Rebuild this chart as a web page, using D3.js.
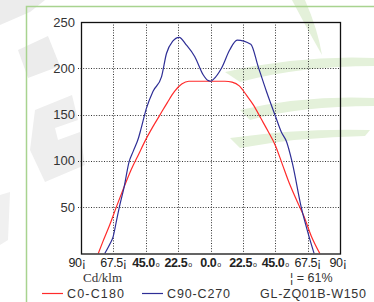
<!DOCTYPE html>
<html>
<head>
<meta charset="utf-8">
<script src="https://cdn.jsdelivr.net/npm/d3@7"></script>
<style>
body { margin: 0; background: #fff; }
svg { display: block; }
</style>
</head>
<body>
<svg id="canvas"></svg>
<script>
// C0-C180 (red)
const redAngles = [-78, -75, -70, -65, -60, -55, -50, -45, -40, -35, -30, -25, -20, -15, -10, -5, 0, 5, 10, 15, 20, 25, 30, 35, 40, 45, 50, 55, 60, 65, 70, 76]
const redValues = [0, 12, 31, 52, 72, 91, 107, 123, 137, 150, 163, 175, 183, 186, 186, 186, 186, 186, 186, 185, 181, 171, 160, 146, 132, 117, 96, 75, 57, 40, 19, 0]

// C90-C270 (blue)
const blueAngles = [-73.5, -70, -67.7, -65, -63.5, -60, -56.6, -53.8, -50, -48.4, -44.5, -40, -34, -30.6, -26.4, -21.8, -16.7, -10.9, -5.1, -2, 0, 2, 7.6, 13.4, 18.5, 28, 33.1, 38.9, 45.2, 49.3, 52.8, 56.7, 63.2, 67.8, 72]
const blueValues = [0, 10, 18, 38, 49, 72, 99, 110, 125, 134, 157, 175, 191, 216, 229, 233.5, 225, 212.5, 193, 187, 186, 188, 200, 220, 230.5, 226, 202, 175, 148, 131, 121, 99, 49, 22, 0]

const xTicks = [-90, -67.5, -45, -22.5, 0, 22.5, 45, 67.5, 90]
const xTickLabels = ['90¡', '67.5¡', '45.0', '22.5', '0.0', '22.5', '45.0', '67.5¡', '90¡']
const yTicks = [50, 100, 150, 200, 250]

const width = 374
const height = 302
const plotLeft = 81, plotRight = 340, plotTop = 22, plotBottom = 253.5

const svg = d3.select('#canvas')
    .attr('width', width)
    .attr('height', height)

// faint watermark behind everything
const wm = svg.append('g')
wm.append('path')
    .attr('d', 'M0,0 L45,0 L30,12 L0,25 Z')
    .attr('fill', '#ececec')
wm.append('path')
    .attr('d', 'M18,50 L48,36 L60,66 L28,78 Z')
    .attr('fill', '#ececec')
wm.append('path')
    .attr('d', 'M35,110 L72,95 L78,120 L55,128 L58,140 L80,132 L85,165 L45,182 L30,150 Z')
    .attr('fill', '#eeeeee')
wm.append('path')
    .attr('d', 'M0,195 L10,192 L8,240 L0,245 Z')
    .attr('fill', '#f0f0f0')
wm.append('path')
    .attr('d', 'M292,0 L305,0 Q318,30 322,55 Q305,25 292,0 Z')
    .attr('fill', '#e4f1da')
wm.append('path')
    .attr('d', 'M225,72 Q300,55 374,58 L374,66 Q300,66 240,82 Z')
    .attr('fill', '#e4f1da')
wm.append('path')
    .attr('d', 'M240,110 Q305,95 374,98 L374,106 Q300,106 250,120 Z')
    .attr('fill', '#e4f1da')
wm.append('path')
    .attr('d', 'M230,138 Q300,128 370,130 L365,136 Q300,137 240,148 Z')
    .attr('fill', '#e4f1da')

// green frame
svg.append('path')
    .attr('d', 'M26.5,' + height + ' L26.5,6.5 L' + width + ',6.5')
    .attr('fill', 'none')
    .attr('stroke', '#a8d38f')
    .attr('stroke-width', 1.5)

const xScale = d3.scaleLinear()
    .domain([-90, 90])
    .range([plotLeft, plotRight])

const yScale = d3.scaleLinear()
    .domain([0, 250])
    .range([plotBottom, plotTop])

// grid lines
svg.append('g')
    .selectAll('line')
    .data(xTicks.slice(1, -1))
    .enter()
    .append('line')
    .attr('x1', d => Math.round(xScale(d)) + 0.5)
    .attr('x2', d => Math.round(xScale(d)) + 0.5)
    .attr('y1', plotTop)
    .attr('y2', plotBottom)
    .attr('stroke', '#333')
    .attr('stroke-dasharray', '1,1.6')

svg.append('g')
    .selectAll('line')
    .data(yTicks.slice(0, -1))
    .enter()
    .append('line')
    .attr('x1', plotLeft - 3)
    .attr('x2', plotRight)
    .attr('y1', d => Math.round(yScale(d)) + 0.5)
    .attr('y2', d => Math.round(yScale(d)) + 0.5)
    .attr('stroke', '#333')
    .attr('stroke-dasharray', '1,1.6')

// y axis labels
svg.append('g')
    .selectAll('text')
    .data(yTicks)
    .enter()
    .append('text')
    .attr('x', 75)
    .attr('y', d => yScale(d) + 4.5)
    .attr('text-anchor', 'end')
    .attr('font-family', 'Liberation Sans, Arial, sans-serif')
    .attr('font-size', 13)
    .attr('fill', '#333')
    .text(d => d)

// x axis labels
const xl = svg.append('g')
    .selectAll('text')
    .data(xTicks)
    .enter()
    .append('text')
    .attr('x', (d, i) => xScale(d) + (i == 0 ? -4 : (i == 8 ? -2 : 0)))
    .attr('y', 267)
    .attr('text-anchor', 'middle')
    .attr('font-family', 'Liberation Sans, Arial, sans-serif')
    .attr('font-size', 12.5)
    .attr('letter-spacing', -0.4)
    .attr('font-weight', (d, i) => (i >= 2 && i <= 6) ? 'bold' : 'normal')
    .attr('fill', '#222')
xl.append('tspan').text((d, i) => xTickLabels[i])
xl.filter((d, i) => i >= 2 && i <= 6)
    .append('tspan')
    .attr('font-size', 7)
    .attr('font-weight', 'normal')
    .attr('dx', 1)
    .text('o')

// curves
const clip = svg.append('clipPath').attr('id', 'plotclip')
clip.append('rect')
    .attr('x', plotLeft)
    .attr('y', plotTop)
    .attr('width', plotRight - plotLeft)
    .attr('height', plotBottom - plotTop)

const line = d3.line()
    .x(d => xScale(d[0]))
    .y(d => yScale(d[1]))
    .curve(d3.curveMonotoneX)

const curves = svg.append('g').attr('clip-path', 'url(#plotclip)')
curves.append('path')
    .datum(redAngles.map((a, i) => [a, redValues[i]]))
    .attr('d', line)
    .attr('fill', 'none')
    .attr('stroke', '#ff2b2b')
    .attr('stroke-width', 1.2)

curves.append('path')
    .datum(blueAngles.map((a, i) => [a, blueValues[i]]))
    .attr('d', line)
    .attr('fill', 'none')
    .attr('stroke', '#2e2e96')
    .attr('stroke-width', 1.2)

// plot frame
svg.append('rect')
    .attr('x', plotLeft + 0.5)
    .attr('y', plotTop + 0.5)
    .attr('width', plotRight - plotLeft)
    .attr('height', plotBottom - plotTop)
    .attr('fill', 'none')
    .attr('stroke', '#111')
    .attr('stroke-width', 1.3)

// units and efficiency
svg.append('text')
    .attr('x', 83)
    .attr('y', 282)
    .attr('font-family', 'Liberation Serif, Times New Roman, serif')
    .attr('font-size', 13)
    .attr('fill', '#333')
    .text('Cd/klm')

svg.append('text')
    .attr('x', 290)
    .attr('y', 282)
    .attr('font-family', 'Liberation Sans, Arial, sans-serif')
    .attr('font-size', 12.5)
    .attr('fill', '#333')
    .text('¦ = 61%')

// legend
const legend = [
    { name: 'C0-C180', color: '#ff2b2b', x: 42, w: 57 },
    { name: 'C90-C270', color: '#2e2e96', x: 142, w: 63 }
]
legend.forEach(l => {
    svg.append('line')
        .attr('x1', l.x)
        .attr('x2', l.x + 21)
        .attr('y1', 293.5)
        .attr('y2', 293.5)
        .attr('stroke', l.color)
        .attr('stroke-width', 1.2)
    svg.append('text')
        .attr('x', l.x + 25)
        .attr('y', 298)
        .attr('font-family', 'Liberation Sans, Arial, sans-serif')
        .attr('font-size', 12.5)
        .attr('textLength', l.w)
        .attr('lengthAdjust', 'spacing')
        .attr('fill', '#333')
        .text(l.name)
})
svg.append('text')
    .attr('x', 260)
    .attr('y', 298)
    .attr('font-family', 'Liberation Sans, Arial, sans-serif')
    .attr('font-size', 12.5)
    .attr('textLength', 106)
    .attr('lengthAdjust', 'spacing')
    .attr('fill', '#333')
    .text('GL-ZQ01B-W150')
</script>
</body>
</html>
